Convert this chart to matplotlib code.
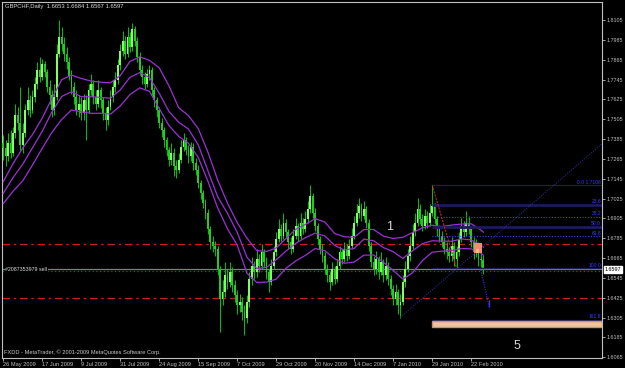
import matplotlib
matplotlib.use("Agg")
import matplotlib.pyplot as plt
import matplotlib.transforms as mtransforms
from matplotlib.patches import Rectangle
import numpy as np

plt.rcParams['font.family'] = ['Liberation Sans', 'DejaVu Sans']

# GBPCHF daily bars, 26 May 2009 .. 1 Mar 2010
opens = [
    1.7360, 1.7330, 1.7280, 1.7360, 1.7300, 1.7420, 1.7530, 1.7480, 1.7350, 1.7420,
    1.7560, 1.7620, 1.7560, 1.7640, 1.7720, 1.7800, 1.7760, 1.7840, 1.7790, 1.7700,
    1.7650, 1.7560, 1.7640, 1.7900, 1.8000, 1.7960, 1.7900, 1.7850, 1.7760, 1.7700,
    1.7640, 1.7560, 1.7600, 1.7540, 1.7620, 1.7560, 1.7680, 1.7720, 1.7640, 1.7600,
    1.7680, 1.7620, 1.7540, 1.7500, 1.7580, 1.7640, 1.7700, 1.7740, 1.7830, 1.7920,
    1.7980, 1.7900, 1.8000, 1.7940, 1.8050, 1.7980, 1.7880, 1.7800, 1.7760, 1.7720,
    1.7780, 1.7800, 1.7680, 1.7620, 1.7560, 1.7480, 1.7440, 1.7380, 1.7320, 1.7260,
    1.7300, 1.7220, 1.7200, 1.7260, 1.7340, 1.7380, 1.7320, 1.7280, 1.7340, 1.7240,
    1.7200, 1.7120, 1.7060, 1.7000, 1.6940, 1.6840, 1.6760, 1.6740, 1.6720, 1.6600,
    1.6420, 1.6460, 1.6560, 1.6520, 1.6580, 1.6500, 1.6440, 1.6380, 1.6400, 1.6340,
    1.6300, 1.6400, 1.6540, 1.6620, 1.6580, 1.6660, 1.6620, 1.6700, 1.6640, 1.6580,
    1.6520, 1.6620, 1.6700, 1.6780, 1.6840, 1.6800, 1.6880, 1.6820, 1.6760, 1.6720,
    1.6800, 1.6860, 1.6800, 1.6880, 1.6840, 1.6900, 1.6960, 1.7040, 1.6940, 1.6860,
    1.6780, 1.6720, 1.6680, 1.6600, 1.6560, 1.6520, 1.6600, 1.6540, 1.6620, 1.6700,
    1.6660, 1.6720, 1.6680, 1.6740, 1.6800, 1.6880, 1.6940, 1.6980, 1.6920, 1.6960,
    1.6880, 1.6740, 1.6640, 1.6600, 1.6660, 1.6580, 1.6640, 1.6560, 1.6620, 1.6540,
    1.6480, 1.6420, 1.6460, 1.6380, 1.6400, 1.6520, 1.6600, 1.6680, 1.6740, 1.6820,
    1.6880, 1.6960, 1.6900, 1.6860, 1.6920, 1.6880, 1.6940, 1.6980, 1.6900, 1.6840,
    1.6800, 1.6760, 1.6720, 1.6700, 1.6680, 1.6740, 1.6660, 1.6700, 1.6780, 1.6860,
    1.6820, 1.6880, 1.6840, 1.6760, 1.6700, 1.6740, 1.6660, 1.6653,
]
highs = [
    1.7410, 1.7380, 1.7420, 1.7440, 1.7460, 1.7600, 1.7580, 1.7700, 1.7480, 1.7600,
    1.7700, 1.7650, 1.7680, 1.7760, 1.7850, 1.7880, 1.7870, 1.7860, 1.7810, 1.7740,
    1.7680, 1.7720, 1.7960, 1.8105, 1.8060, 1.8000, 1.7940, 1.7880, 1.7800, 1.7730,
    1.7680, 1.7650, 1.7640, 1.7660, 1.7650, 1.7720, 1.7780, 1.7740, 1.7680, 1.7740,
    1.7700, 1.7640, 1.7580, 1.7620, 1.7680, 1.7740, 1.7790, 1.7870, 1.7960, 1.8040,
    1.8010, 1.8060, 1.8030, 1.8087, 1.8070, 1.8000, 1.7910, 1.7830, 1.7790, 1.7810,
    1.7830, 1.7820, 1.7700, 1.7640, 1.7580, 1.7510, 1.7460, 1.7400, 1.7340, 1.7360,
    1.7330, 1.7260, 1.7300, 1.7380, 1.7420, 1.7400, 1.7350, 1.7370, 1.7360, 1.7270,
    1.7230, 1.7140, 1.7080, 1.7020, 1.6960, 1.6860, 1.6800, 1.6770, 1.6740, 1.6620,
    1.6530, 1.6640, 1.6600, 1.6640, 1.6610, 1.6530, 1.6470, 1.6450, 1.6430, 1.6380,
    1.6440, 1.6580, 1.6670, 1.6650, 1.6720, 1.6690, 1.6750, 1.6720, 1.6670, 1.6600,
    1.6660, 1.6740, 1.6820, 1.6900, 1.6870, 1.6940, 1.6900, 1.6840, 1.6790, 1.6840,
    1.6910, 1.6880, 1.6940, 1.6910, 1.6950, 1.7010, 1.7107, 1.7060, 1.6970, 1.6880,
    1.6800, 1.6750, 1.6700, 1.6630, 1.6590, 1.6640, 1.6620, 1.6660, 1.6740, 1.6720,
    1.6760, 1.6750, 1.6780, 1.6850, 1.6920, 1.6990, 1.7030, 1.7000, 1.7010, 1.6980,
    1.6900, 1.6760, 1.6680, 1.6710, 1.6680, 1.6700, 1.6660, 1.6670, 1.6640, 1.6560,
    1.6500, 1.6510, 1.6480, 1.6450, 1.6560, 1.6650, 1.6720, 1.6800, 1.6870, 1.6940,
    1.7030, 1.6990, 1.6930, 1.6960, 1.6950, 1.6990, 1.7108, 1.7000, 1.6920, 1.6860,
    1.6830, 1.6790, 1.6760, 1.6730, 1.6790, 1.6760, 1.6740, 1.6820, 1.6910, 1.6890,
    1.6950, 1.6920, 1.6860, 1.6790, 1.6780, 1.6760, 1.6720, 1.6684,
]
lows = [
    1.7260, 1.7220, 1.7250, 1.7270, 1.7280, 1.7390, 1.7440, 1.7320, 1.7300, 1.7400,
    1.7530, 1.7520, 1.7540, 1.7610, 1.7690, 1.7730, 1.7740, 1.7760, 1.7670, 1.7600,
    1.7520, 1.7530, 1.7620, 1.7880, 1.7920, 1.7860, 1.7810, 1.7740, 1.7660, 1.7600,
    1.7530, 1.7520, 1.7500, 1.7500, 1.7380, 1.7540, 1.7650, 1.7600, 1.7560, 1.7580,
    1.7570, 1.7500, 1.7440, 1.7470, 1.7560, 1.7610, 1.7670, 1.7720, 1.7800, 1.7890,
    1.7870, 1.7880, 1.7910, 1.7920, 1.7950, 1.7850, 1.7770, 1.7720, 1.7690, 1.7700,
    1.7740, 1.7650, 1.7580, 1.7520, 1.7450, 1.7400, 1.7340, 1.7280, 1.7220, 1.7230,
    1.7160, 1.7150, 1.7180, 1.7240, 1.7310, 1.7290, 1.7240, 1.7250, 1.7200, 1.7170,
    1.7090, 1.7020, 1.6970, 1.6900, 1.6810, 1.6720, 1.6700, 1.6680, 1.6560, 1.6220,
    1.6380, 1.6430, 1.6480, 1.6490, 1.6460, 1.6400, 1.6330, 1.6340, 1.6290, 1.6200,
    1.6270, 1.6370, 1.6500, 1.6540, 1.6550, 1.6580, 1.6600, 1.6610, 1.6540, 1.6460,
    1.6500, 1.6600, 1.6680, 1.6760, 1.6770, 1.6780, 1.6790, 1.6720, 1.6690, 1.6700,
    1.6780, 1.6770, 1.6780, 1.6810, 1.6820, 1.6880, 1.6940, 1.6910, 1.6830, 1.6750,
    1.6690, 1.6640, 1.6570, 1.6520, 1.6470, 1.6500, 1.6510, 1.6520, 1.6600, 1.6630,
    1.6640, 1.6650, 1.6660, 1.6720, 1.6780, 1.6860, 1.6910, 1.6890, 1.6900, 1.6850,
    1.6710, 1.6610, 1.6560, 1.6570, 1.6540, 1.6560, 1.6520, 1.6530, 1.6500, 1.6440,
    1.6380, 1.6380, 1.6330, 1.6305, 1.6380, 1.6490, 1.6580, 1.6650, 1.6720, 1.6800,
    1.6860, 1.6870, 1.6830, 1.6840, 1.6850, 1.6860, 1.6920, 1.6870, 1.6800, 1.6760,
    1.6730, 1.6690, 1.6660, 1.6640, 1.6650, 1.6620, 1.6604, 1.6680, 1.6760, 1.6790,
    1.6800, 1.6810, 1.6730, 1.6660, 1.6670, 1.6620, 1.6610, 1.6567,
]
closes = [
    1.7330, 1.7280, 1.7360, 1.7300, 1.7420, 1.7530, 1.7480, 1.7350, 1.7420, 1.7560,
    1.7620, 1.7560, 1.7640, 1.7720, 1.7800, 1.7760, 1.7840, 1.7790, 1.7700, 1.7650,
    1.7560, 1.7640, 1.7900, 1.8000, 1.7960, 1.7900, 1.7850, 1.7760, 1.7700, 1.7640,
    1.7560, 1.7600, 1.7540, 1.7620, 1.7560, 1.7680, 1.7720, 1.7640, 1.7600, 1.7680,
    1.7620, 1.7540, 1.7500, 1.7580, 1.7640, 1.7700, 1.7740, 1.7830, 1.7920, 1.7980,
    1.7900, 1.8000, 1.7940, 1.8050, 1.7980, 1.7880, 1.7800, 1.7760, 1.7720, 1.7780,
    1.7800, 1.7680, 1.7620, 1.7560, 1.7480, 1.7440, 1.7380, 1.7320, 1.7260, 1.7300,
    1.7220, 1.7200, 1.7260, 1.7340, 1.7380, 1.7320, 1.7280, 1.7340, 1.7240, 1.7200,
    1.7120, 1.7060, 1.7000, 1.6940, 1.6840, 1.6760, 1.6740, 1.6720, 1.6600, 1.6420,
    1.6460, 1.6560, 1.6520, 1.6580, 1.6500, 1.6440, 1.6380, 1.6400, 1.6340, 1.6300,
    1.6400, 1.6540, 1.6620, 1.6580, 1.6660, 1.6620, 1.6700, 1.6640, 1.6580, 1.6520,
    1.6620, 1.6700, 1.6780, 1.6840, 1.6800, 1.6880, 1.6820, 1.6760, 1.6720, 1.6800,
    1.6860, 1.6800, 1.6880, 1.6840, 1.6900, 1.6960, 1.7040, 1.6940, 1.6860, 1.6780,
    1.6720, 1.6680, 1.6600, 1.6560, 1.6520, 1.6600, 1.6540, 1.6620, 1.6700, 1.6660,
    1.6720, 1.6680, 1.6740, 1.6800, 1.6880, 1.6940, 1.6980, 1.6920, 1.6960, 1.6880,
    1.6740, 1.6640, 1.6600, 1.6660, 1.6580, 1.6640, 1.6560, 1.6620, 1.6540, 1.6480,
    1.6420, 1.6460, 1.6380, 1.6400, 1.6520, 1.6600, 1.6680, 1.6740, 1.6820, 1.6880,
    1.6960, 1.6900, 1.6860, 1.6920, 1.6880, 1.6940, 1.6980, 1.6900, 1.6840, 1.6800,
    1.6760, 1.6720, 1.6700, 1.6680, 1.6740, 1.6660, 1.6700, 1.6780, 1.6860, 1.6820,
    1.6880, 1.6840, 1.6760, 1.6700, 1.6740, 1.6660, 1.6653, 1.6597,
]

# the three purple average lines, read every 4th bar
ma_bars = list(range(0, 197, 4)) + [197]
ma_upper = [
    1.7127, 1.7236, 1.7331, 1.7412, 1.7512, 1.7631, 1.7744, 1.7772, 1.7752, 1.7736,
    1.7729, 1.7725, 1.7769, 1.7854, 1.7883, 1.7861, 1.7816, 1.7707, 1.7575, 1.7527,
    1.7449, 1.7306, 1.7137, 1.6998, 1.6880, 1.6786, 1.6711, 1.6705, 1.6726, 1.6784,
    1.6839, 1.6869, 1.6904, 1.6883, 1.6814, 1.6794, 1.6791, 1.6838, 1.6838, 1.6798,
    1.6784, 1.6791, 1.6820, 1.6848, 1.6864, 1.6856, 1.6865, 1.6871, 1.6873, 1.6835,
    1.6822,
]
ma_mid = [
    1.7057, 1.7152, 1.7233, 1.7332, 1.7432, 1.7549, 1.7643, 1.7671, 1.7641, 1.7641,
    1.7637, 1.7632, 1.7682, 1.7758, 1.7787, 1.7757, 1.7663, 1.7552, 1.7487, 1.7446,
    1.7351, 1.7193, 1.7036, 1.6937, 1.6821, 1.6671, 1.6603, 1.6609, 1.6655, 1.6707,
    1.6754, 1.6789, 1.6816, 1.6799, 1.6742, 1.6714, 1.6724, 1.6780, 1.6770, 1.6729,
    1.6704, 1.6663, 1.6710, 1.6753, 1.6770, 1.6768, 1.6767, 1.6781, 1.6775, 1.6744,
    1.6732,
]
ma_lower = [
    1.6994, 1.7069, 1.7132, 1.7228, 1.7329, 1.7426, 1.7504, 1.7561, 1.7550, 1.7541,
    1.7541, 1.7536, 1.7585, 1.7654, 1.7695, 1.7674, 1.7570, 1.7467, 1.7401, 1.7360,
    1.7274, 1.7130, 1.6969, 1.6843, 1.6744, 1.6574, 1.6518, 1.6520, 1.6538, 1.6603,
    1.6648, 1.6682, 1.6723, 1.6710, 1.6661, 1.6634, 1.6641, 1.6683, 1.6684, 1.6640,
    1.6591, 1.6538, 1.6577, 1.6650, 1.6701, 1.6707, 1.6710, 1.6723, 1.6721, 1.6694,
    1.6683,
]

date_bars = [0, 16, 32, 48, 64, 80, 96, 112, 128, 144, 160, 176, 192]
date_labels = ["26 May 2009", "17 Jun 2009", "9 Jul 2009", "31 Jul 2009",
               "24 Aug 2009", "15 Sep 2009", "7 Oct 2009", "29 Oct 2009",
               "20 Nov 2009", "14 Dec 2009", "7 Jan 2010", "29 Jan 2010",
               "22 Feb 2010"]
price_ticks = [1.6065, 1.6185, 1.6305, 1.6425, 1.6545, 1.6665, 1.6785, 1.6905,
               1.7025, 1.7145, 1.7265, 1.7385, 1.7505, 1.7625, 1.7745, 1.7865,
               1.7985, 1.8105]

title = "GBPCHF,Daily  1.6653 1.6684 1.6567 1.6597"
bid = 1.6597
order_price = 1.6585
order_label = "#2087353979 sell"
stop_lines = [1.6750, 1.6423]

fib_start, fib_end = 176, 186
fib_high, fib_low = 1.7108, 1.6604
fib_levels = [0.0, 23.6, 38.2, 50.0, 61.8, 100.0, 161.8]
fib_labels = ["0.0 1.7108", "23.6", "38.2", "50.0", "61.8", "100.0", "161.8"]

trend_bars = [163, 246]
trend_prices = [1.6308, 1.7361]
proj_bars = [196, 199.4]
proj_prices = [1.6593, 1.6369]
band_prices = (1.6251, 1.6287)
box_bars = (193.2, 196.5)
box_prices = (1.6695, 1.6756)

XMIN, XMAX = -0.5, 245.7
YMIN, YMAX = 1.6064, 1.8214
GREY = '#c0c0c0'

fig = plt.figure(figsize=(6.25, 3.68), dpi=100, facecolor='black')
ax = fig.add_axes([2 / 625, 10.5 / 368, 600 / 625, 355.5 / 368])
ax.set_facecolor('black')

x = np.arange(len(closes))
o = np.array(opens)
c = np.array(closes)
h = np.array(highs)
l = np.array(lows)
up = c >= o

# horizontal objects behind the candles
for p in stop_lines:
    ax.axhline(p, color='#c81e1e', lw=0.9, dashes=(6, 3, 2, 3), zorder=1)
ax.axhline(bid, color='#808080', lw=0.9, zorder=1)
ax.axhline(order_price, color='#008000', lw=0.9, dashes=(1, 2), zorder=1)

# candles
ax.vlines(x, l, h, color='#00c800', lw=0.7, zorder=2)
body_lo = np.minimum(o, c)
body_h = np.maximum(np.abs(c - o), 0.0004)
ax.bar(x[up], body_h[up], bottom=body_lo[up], width=0.75,
       color='#80ff60', edgecolor='none', zorder=3)
ax.bar(x[~up], body_h[~up], bottom=body_lo[~up], width=0.75,
       color='#22cc22', edgecolor='none', zorder=3)

# purple averages
for line in (ma_upper, ma_mid, ma_lower):
    ax.plot(ma_bars, line, color='#9a32d6', lw=0.9, zorder=4)

# fibonacci retracement
span = fib_high - fib_low
for lev, lab in zip(fib_levels, fib_labels):
    p = fib_high - lev / 100 * span
    if lev in (23.6, 50.0):
        ax.hlines(p, fib_start, XMAX, color='#1c1c58', lw=2.0, zorder=4)
    elif lev in (38.2, 61.8):
        ax.hlines(p, fib_start, XMAX, color='#3c3cff', lw=0.8,
                  linestyles=(0, (1, 1.5)), zorder=4)
    else:
        ax.hlines(p, fib_start, XMAX, color='#1c1c58', lw=0.9, zorder=4)
    ax.text(XMAX - 0.4, p + 0.0002, lab, color='#3c3cff', fontsize=3.6,
            ha='right', va='bottom', zorder=6)
ax.plot([fib_start, fib_end], [fib_high, fib_low], color='#cc2020',
        lw=0.8, dashes=(2, 1), zorder=5)

ax.add_patch(Rectangle((fib_start, band_prices[0]), XMAX - fib_start,
                       band_prices[1] - band_prices[0], facecolor='#eec4a0',
                       edgecolor='#c89660', lw=1.0, zorder=4))

# trend line and projection
ax.plot(trend_bars, trend_prices, color='#2a2a88', lw=0.8, dashes=(1, 1.2), zorder=5)
ax.plot(proj_bars, proj_prices, color='#3030ff', lw=0.8, dashes=(1, 1.2), zorder=5)
ax.vlines(proj_bars[1], proj_prices[1], proj_prices[1] + 0.0045,
          color='#3030ff', lw=1.0, zorder=5)

ax.add_patch(Rectangle((box_bars[0], box_prices[0]), box_bars[1] - box_bars[0],
                       box_prices[1] - box_prices[0], facecolor='#f08c74',
                       edgecolor='none', zorder=6))
ax.add_patch(Rectangle((box_bars[0] + 0.6, box_prices[0]), 1.6,
                       (box_prices[1] - box_prices[0]) * 0.45,
                       facecolor='#d6cc70', edgecolor='none', zorder=6))

# labels inside the chart
ax.text(158.4, 1.6856, "1", color='#d8d8d8', fontsize=9, ha='center', va='center', zorder=7)
ax.text(210.9, 1.6133, "5", color='#d8d8d8', fontsize=9, ha='center', va='center', zorder=7)
ax.text(0.9, bid, order_label, color='#e0e0e0', fontsize=3.8, ha='left', va='center',
        zorder=7, bbox=dict(facecolor='black', edgecolor='none', pad=0.3))
ax.text(0.005, 0.994, title, transform=ax.transAxes, color='#d8d8d8',
        fontsize=4.2, ha='left', va='top')
ax.text(0.003, 0.014, "FXDD - MetaTrader, \u00a9 2001-2009 MetaQuotes Software Corp.",
        transform=ax.transAxes, color='#c8c8c8', fontsize=4.1, ha='left', va='center')

# axes
ax.set_xlim(XMIN, XMAX)
ax.set_ylim(YMIN, YMAX)
ax.yaxis.tick_right()
ax.set_yticks(price_ticks)
ax.set_yticklabels([f"{p:.4f}" for p in price_ticks])
ax.set_xticks(date_bars)
ax.set_xticklabels(date_labels, ha='left')
ax.tick_params(axis='y', colors=GREY, labelsize=3.9, length=1.8, width=0.6, pad=1.2)
ax.tick_params(axis='x', colors=GREY, labelsize=4.1, length=2.2, width=0.6, pad=1.0)
for s in ax.spines.values():
    s.set_color(GREY)
    s.set_linewidth(0.8)

trans = mtransforms.blended_transform_factory(ax.transAxes, ax.transData)
ax.text(1.0045, bid, f"{bid:.4f}", transform=trans, color='black', fontsize=3.9,
        ha='left', va='center', clip_on=False,
        bbox=dict(facecolor='white', edgecolor='white', pad=0.6))

fig.savefig("out.png", dpi=100, facecolor='black')
